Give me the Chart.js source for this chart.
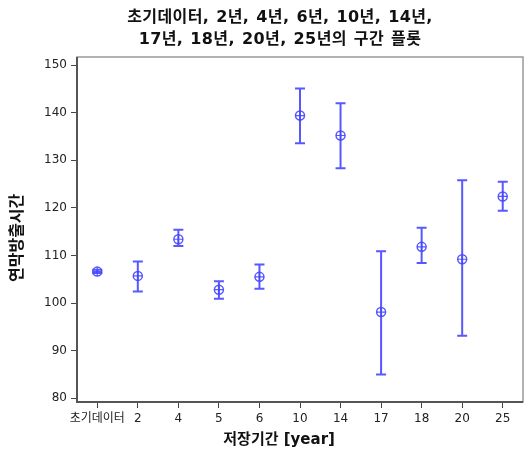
<!DOCTYPE html>
<html>
<head>
<meta charset="utf-8">
<script src="https://cdn.jsdelivr.net/npm/chart.js@4"></script>
<style>
  html, body { margin: 0; padding: 0; background: #fff; }
  #wrap { position: relative; width: 529px; height: 453px; }
  #title {
    position: absolute; left: 0; top: 6px; width: 560px; text-align: center;
    font: bold 16px 'DejaVu Sans', 'Noto Sans CJK KR', sans-serif; line-height: 22px; color: #111;
    letter-spacing: 0.4px; word-spacing: 1px;
  }
</style>
</head>
<body>
<div id="wrap">
  <canvas id="chart" width="529" height="453"></canvas>
  <div id="title">초기데이터, 2년, 4년, 6년, 10년, 14년,<br>17년, 18년, 20년, 25년의 구간 플롯</div>
</div>
<script>
// categories (저장기간)
const periods = ['초기데이터', '2', '4', '5', '6', '10', '14', '17', '18', '20', '25'];
// mean of 연막방출시간
const means = [106.6, 105.7, 113.4, 102.8, 105.5, 139.4, 135.2, 98.1, 111.8, 109.2, 122.4];
// interval bounds
const lower = [106.3, 102.4, 112.0, 100.9, 103.0, 133.6, 128.3, 85.0, 108.4, 93.1, 119.4];
const upper = [107.0, 108.7, 115.4, 104.6, 108.1, 145.1, 142.0, 110.9, 115.8, 125.8, 125.5];
const yTicks = [80, 90, 100, 110, 120, 130, 140, 150];

const blue = 'rgba(70,70,255,0.9)';
const font = "'DejaVu Sans', 'Noto Sans CJK KR', sans-serif";

// whiskers + frame
const intervalPlugin = {
    id: 'intervals',
    beforeDatasetsDraw(chart) {
        const ctx = chart.ctx;
        const x = chart.scales.x, y = chart.scales.y;
        ctx.save();
        ctx.strokeStyle = blue;
        ctx.lineWidth = 2;
        periods.forEach(function (p, i) {
            const px = x.getPixelForValue(i);
            const top = y.getPixelForValue(upper[i]);
            const bot = y.getPixelForValue(lower[i]);
            ctx.beginPath();
            ctx.moveTo(px, top); ctx.lineTo(px, bot);
            ctx.moveTo(px - 5, top); ctx.lineTo(px + 5, top);
            ctx.moveTo(px - 5, bot); ctx.lineTo(px + 5, bot);
            ctx.stroke();
        });
        ctx.restore();
    },
    afterDraw(chart) {
        const a = chart.chartArea, ctx = chart.ctx;
        ctx.save();
        ctx.strokeStyle = '#999';
        ctx.lineWidth = 1.5;
        ctx.strokeRect(a.left, a.top, a.right - a.left, a.bottom - a.top);
        ctx.strokeStyle = '#555';
        ctx.lineWidth = 2;
        ctx.beginPath();
        ctx.moveTo(a.left, a.top); ctx.lineTo(a.left, a.bottom); ctx.lineTo(a.right, a.bottom);
        ctx.stroke();
        ctx.restore();
    }
};

new Chart(document.getElementById('chart'), {
    type: 'line',
    data: {
        labels: periods,
        datasets: [{
            data: means,
            showLine: false,
            pointStyle: 'circle',
            pointRadius: 4.5,
            pointBorderWidth: 1.5,
            pointBorderColor: blue,
            pointBackgroundColor: 'rgba(0,0,0,0)'
        }, {
            data: means,
            showLine: false,
            pointStyle: 'cross',
            pointRadius: 4.5,
            pointBorderWidth: 1.2,
            pointBorderColor: blue
        }]
    },
    options: {
        responsive: false,
        animation: false,
        layout: { padding: { top: 57, right: 2, bottom: 0, left: 0 } },
        plugins: { legend: { display: false }, tooltip: { enabled: false } },
        scales: {
            x: {
                offset: true,
                grid: { drawOnChartArea: false, tickLength: 6, color: '#444', offset: false },
                border: { display: false },
                ticks: { color: '#222', font: { family: font, size: 12 }, padding: 4, maxRotation: 0, autoSkip: false },
                title: {
                    display: true, text: '저장기간 [year]        ', color: '#111',
                    font: { family: font, size: 15, weight: 'bold' }, padding: { top: 0, bottom: 4 }
                },
                afterFit: function (s) { s.height = 51; }
            },
            y: {
                min: 79.2,
                max: 151.7,
                afterBuildTicks: function (s) { s.ticks = yTicks.map(v => ({ value: v })); },
                grid: { drawOnChartArea: false, tickLength: 6, color: '#444' },
                border: { display: false },
                ticks: { color: '#222', font: { family: font, size: 12 }, padding: 4 },
                title: {
                    display: true, text: '연막방출시간   ', color: '#111',
                    font: { family: font, size: 16, weight: 'bold' }, padding: { top: 8, bottom: 0 }
                },
                afterFit: function (s) { s.width = 77; }
            }
        }
    },
    plugins: [intervalPlugin]
});
</script>
</body>
</html>
